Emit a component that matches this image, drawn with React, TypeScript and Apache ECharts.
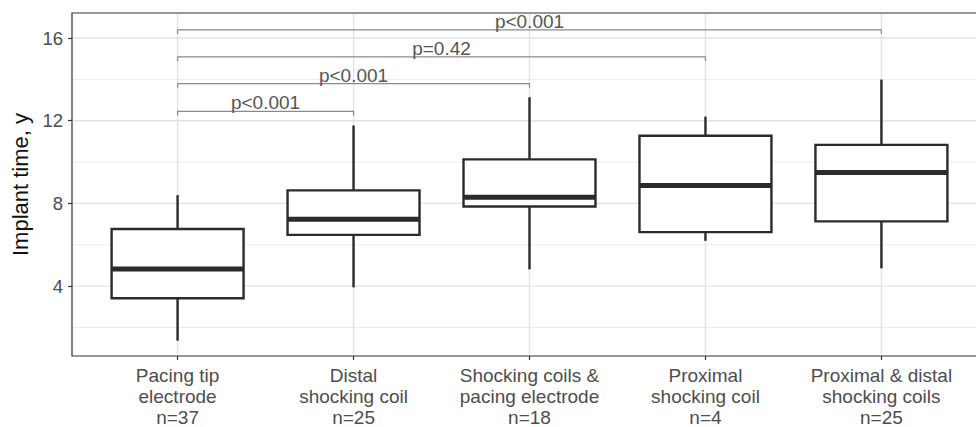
import React, { useEffect, useRef } from "react";
import * as echarts from "echarts";

const categories = [
  "Pacing tip\nelectrode\nn=37",
  "Distal\nshocking coil\nn=25",
  "Shocking coils &\npacing electrode\nn=18",
  "Proximal\nshocking coil\nn=4",
  "Proximal & distal\nshocking coils\nn=25",
];
const whiskerLow = [1.36, 3.94, 4.81, 6.19, 4.86];
const q1 = [3.41, 6.48, 7.85, 6.61, 7.13];
const median = [4.83, 7.24, 8.3, 8.87, 9.5];
const q3 = [6.76, 8.63, 10.13, 11.27, 10.83];
const whiskerHigh = [8.4, 11.77, 13.14, 12.2, 13.99];

const bracketStart = [1, 1, 1, 1];
const bracketEnd = [2, 3, 4, 5];
const bracketY = [12.45, 13.79, 15.09, 16.39];
const pLabels = ["p<0.001", "p<0.001", "p=0.42", "p<0.001"];
const tipLength = 0.2;

const yMajorTicks = [4, 8, 12, 16];
const yMinorTicks = [2, 6, 10, 14];
const xPositions = [1, 2, 3, 4, 5];
const yMin = 0.62;
const yMax = 17.21;
const xMin = 0.4;
const xMax = 5.6;
const boxWidth = 0.75;

const FONT = "'Liberation Sans', Arial, Helvetica, sans-serif";

export default function App() {
  const ref = useRef<HTMLDivElement>(null);
  useEffect(() => {
    if (!ref.current) return;
    const chart = echarts.init(ref.current, undefined, { renderer: "svg" });

    const boxData = xPositions.map((x, i) => [
      x,
      whiskerLow[i],
      q1[i],
      median[i],
      q3[i],
      whiskerHigh[i],
    ]);
    const gridData = [
      ...yMajorTicks.map((v) => [1, v]),
      ...yMinorTicks.map((v) => [2, v]),
      ...xPositions.map((v) => [3, v]),
    ];
    const bracketData = bracketEnd.map((e, i) => [bracketStart[i], e, bracketY[i], i]);

    const option: any = {
      animation: false,
      backgroundColor: "#ffffff",
      grid: {
        left: 72,
        top: 13,
        right: -11,
        bottom: 71,
        outerBoundsMode: "none",
        containLabel: false,
        show: true,
        backgroundColor: "#ffffff",
        borderColor: "#333333",
        borderWidth: 1.2,
      },
      xAxis: {
        type: "value",
        min: xMin,
        max: xMax,
        axisLine: { show: false },
        splitLine: { show: false },
        axisTick: {
          show: true,
          customValues: xPositions,
          length: 4,
          lineStyle: { color: "#333333", width: 1.2 },
        },
        axisLabel: {
          customValues: xPositions,
          formatter: (v: number) => categories[Math.round(v) - 1] ?? "",
          color: "#4d4d4d",
          fontSize: 19,
          fontFamily: FONT,
          lineHeight: 21,
          margin: 9,
          align: "center",
        },
      },
      yAxis: {
        type: "value",
        min: yMin,
        max: yMax,
        name: "Implant time, y",
        nameLocation: "middle",
        nameGap: 40,
        nameRotate: 90,
        nameTextStyle: { color: "#111111", fontSize: 22, fontFamily: FONT },
        axisLine: { show: false },
        splitLine: { show: false },
        axisTick: {
          show: true,
          customValues: yMajorTicks,
          length: 4,
          lineStyle: { color: "#333333", width: 1.2 },
        },
        axisLabel: {
          customValues: yMajorTicks,
          color: "#4d4d4d",
          fontSize: 18.5,
          fontFamily: FONT,
          margin: 9,
        },
      },
      series: [
        {
          type: "custom",
          name: "grid",
          silent: true,
          z: 1,
          data: gridData,
          encode: { x: 1, y: 1 },
          renderItem: (params: any, api: any) => {
            const kind = api.value(0);
            const v = api.value(1);
            const cs = params.coordSys;
            if (kind === 3) {
              const x = api.coord([v, yMin])[0];
              return {
                type: "line",
                shape: { x1: x, y1: cs.y + 1, x2: x, y2: cs.y + cs.height - 1 },
                style: { stroke: "#e3e3e3", lineWidth: 1.4 },
              };
            }
            const y = api.coord([xPositions[0], v])[1];
            return {
              type: "line",
              shape: { x1: cs.x + 1, y1: y, x2: cs.x + cs.width - 1, y2: y },
              style: {
                stroke: kind === 1 ? "#e3e3e3" : "#ececec",
                lineWidth: kind === 1 ? 1.4 : 1,
              },
            };
          },
        },
        {
          type: "custom",
          name: "brackets",
          silent: true,
          z: 2,
          data: bracketData,
          encode: { x: [0, 1], y: 2 },
          renderItem: (params: any, api: any) => {
            const a = api.coord([api.value(0), api.value(2)]);
            const b = api.coord([api.value(1), api.value(2)]);
            const tipPx = api.coord([api.value(0), api.value(2) - tipLength])[1];
            const idx = api.value(3);
            return {
              type: "group",
              children: [
                {
                  type: "polyline",
                  shape: {
                    points: [
                      [a[0], tipPx],
                      [a[0], a[1]],
                      [b[0], b[1]],
                      [b[0], tipPx],
                    ],
                  },
                  style: { stroke: "#8a8a8a", lineWidth: 1.2, fill: "none" },
                },
                {
                  type: "text",
                  x: (a[0] + b[0]) / 2,
                  y: a[1] + 1,
                  style: {
                    text: pLabels[idx],
                    fill: "#555555",
                    fontSize: 19,
                    fontFamily: FONT,
                    align: "center",
                    verticalAlign: "bottom",
                  },
                },
              ],
            };
          },
        },
        {
          type: "custom",
          name: "boxes",
          silent: true,
          z: 3,
          data: boxData,
          encode: { x: 0, y: [1, 2, 3, 4, 5] },
          renderItem: (params: any, api: any) => {
            const x = api.value(0);
            const lo = api.coord([x, api.value(1)]);
            const b1 = api.coord([x, api.value(2)]);
            const md = api.coord([x, api.value(3)]);
            const b3 = api.coord([x, api.value(4)]);
            const hi = api.coord([x, api.value(5)]);
            const half = api.size([boxWidth, 0])[0] / 2;
            const cx = lo[0];
            const stroke = "#2b2b2b";
            return {
              type: "group",
              children: [
                {
                  type: "line",
                  shape: { x1: cx, y1: hi[1], x2: cx, y2: b3[1] },
                  style: { stroke, lineWidth: 2.4 },
                },
                {
                  type: "line",
                  shape: { x1: cx, y1: b1[1], x2: cx, y2: lo[1] },
                  style: { stroke, lineWidth: 2.4 },
                },
                {
                  type: "rect",
                  shape: { x: cx - half, y: b3[1], width: 2 * half, height: b1[1] - b3[1] },
                  style: { fill: "#ffffff", stroke, lineWidth: 2.4 },
                },
                {
                  type: "line",
                  shape: { x1: cx - half, y1: md[1], x2: cx + half, y2: md[1] },
                  style: { stroke, lineWidth: 5 },
                },
              ],
            };
          },
        },
      ],
    };
    chart.setOption(option);
    return () => chart.dispose();
  }, []);
  return (
    <div
      ref={ref}
      style={{ position: "fixed", left: 0, top: 0, width: 976, height: 427 }}
    />
  );
}
